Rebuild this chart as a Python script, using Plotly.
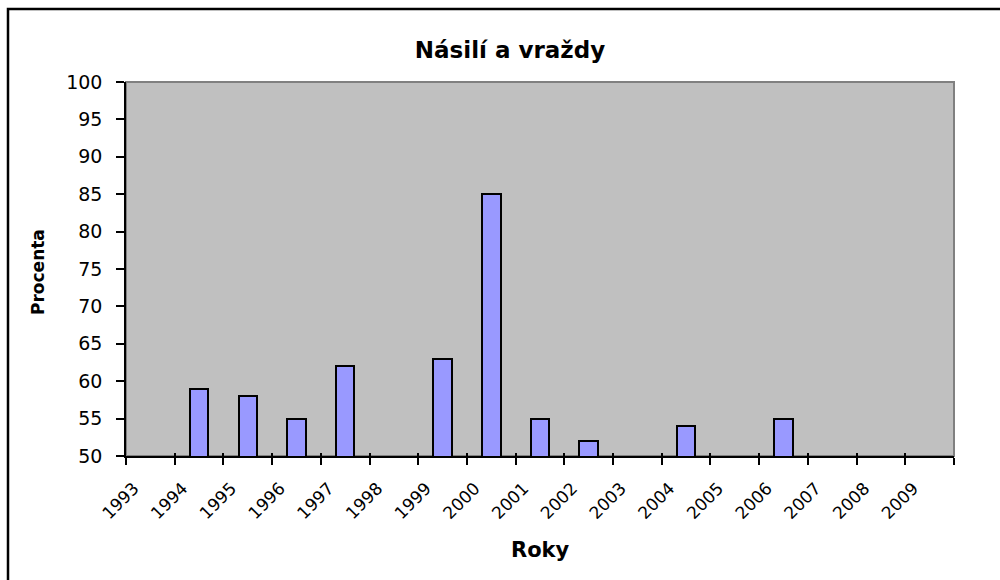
import plotly.graph_objects as go

# Survey data: share (%) per year
years = [1994, 1995, 1996, 1997, 1999, 2000, 2001, 2002, 2004, 2006]
values = [59, 58, 55, 62, 63, 85, 55, 52, 54, 55]

# Axis tick labels (years shown on the category axis)
tick_years = list(range(1993, 2011))
tick_labels = [str(y) for y in range(1993, 2010)] + [""]
y_ticks = list(range(50, 101, 5))

W, H = 1000, 580
L, R, T, B = 126, 46, 82, 124
pw, ph = W - L - R, H - T - B


def px_x(px):
    return (px - L) / pw


def px_y(py):
    return (H - B - py) / ph


FONT = "DejaVu Sans"

fig = go.Figure()
fig.add_trace(go.Bar(
    x=[y + 0.5 for y in years],
    y=values,
    width=0.38,
    marker=dict(color="#9999FF", line=dict(color="black", width=2)),
    showlegend=False,
    hoverinfo="skip",
))
# empty trace so the overlay axis (inner tick marks) is drawn
fig.add_trace(go.Scatter(x=[], y=[], xaxis="x2", showlegend=False, hoverinfo="skip"))

fig.update_layout(
    width=W, height=H,
    margin=dict(l=L, r=R, t=T, b=B),
    paper_bgcolor="white",
    plot_bgcolor="#C0C0C0",
    bargap=0,
    title=dict(text="<b>Násilí a vraždy</b>", x=0.51, xref="container",
               y=1 - 50 / H, yref="container", xanchor="center", yanchor="middle",
               font=dict(family=FONT, size=23, color="black")),
    xaxis=dict(
        range=[1993, 2010], tickmode="array", tickvals=tick_years, ticktext=tick_labels,
        tickangle=-45, ticks="outside", ticklen=7, tickwidth=2, tickcolor="black",
        showline=True, linecolor="black", linewidth=1.5, showgrid=False, zeroline=False,
        tickfont=dict(family=FONT, size=17, color="black"),
        ticklabelstandoff=7, ticklabelshift=8,
        layer="above traces",
    ),
    xaxis2=dict(
        range=[1993, 2010], overlaying="x", anchor="y", side="bottom",
        tickmode="array", tickvals=tick_years, ticktext=tick_labels,
        ticks="inside", ticklen=3, tickwidth=2,
        tickcolor="black", showticklabels=False, showgrid=False, zeroline=False,
        showline=False,
    ),
    yaxis=dict(
        range=[50, 100], tickmode="array", tickvals=y_ticks,
        ticks="outside", ticklen=8, tickwidth=1.5, tickcolor="black",
        showline=True, linecolor="black", linewidth=1.5, showgrid=False, zeroline=False,
        tickfont=dict(family=FONT, size=19, color="black"), ticklabelstandoff=10,
        layer="above traces",
    ),
    shapes=[
        # plot area frame
        dict(type="rect", xref="x domain", yref="y domain", x0=0, x1=1, y0=0, y1=1,
             line=dict(color="#808080", width=2), layer="below"),
        # chart area frame
        dict(type="rect", xref="paper", yref="paper",
             x0=px_x(8), x1=px_x(1010), y0=px_y(590), y1=px_y(9),
             line=dict(color="black", width=2.5)),
    ],
    annotations=[
        dict(text="<b>Procenta</b>", textangle=-90, xref="paper", yref="paper",
             x=px_x(38), y=px_y(272), showarrow=False, xanchor="center", yanchor="middle",
             font=dict(family=FONT, size=17, color="black")),
        dict(text="<b>Roky</b>", xref="paper", yref="paper",
             x=px_x(540), y=px_y(550), showarrow=False, xanchor="center", yanchor="middle",
             font=dict(family=FONT, size=21, color="black")),
    ],
)

fig.write_html("out.html")
